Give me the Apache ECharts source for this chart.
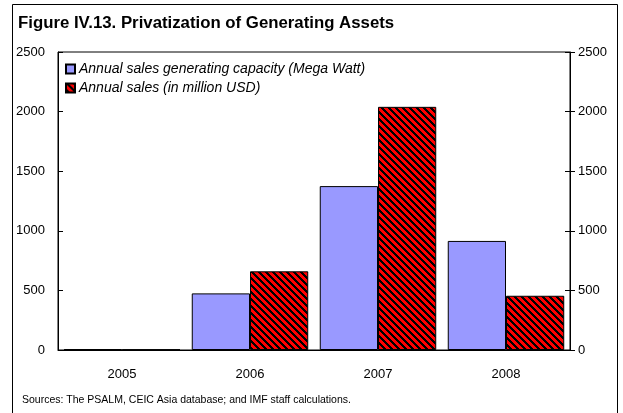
<!DOCTYPE html>
<html>
<head>
<meta charset="utf-8">
<script src="https://cdn.jsdelivr.net/npm/echarts@6/dist/echarts.min.js"></script>
<style>
  html, body { margin: 0; padding: 0; background: #fff; }
  #chart { width: 623px; height: 413px; }
</style>
</head>
<body>
<div id="chart"></div>
<script>
var years = ['2005', '2006', '2007', '2008'];
var capacityMW = [8, 475, 1375, 915];
var salesUSD = [4, 660, 2040, 455];
var axisTicks = [0, 500, 1000, 1500, 2000, 2500];

// red / black diagonal hatch for the sales bars
function hatchTile() {
    var n = 7;
    var c = document.createElement('canvas');
    c.width = n; c.height = n;
    var ctx = c.getContext('2d');
    for (var y = 0; y < n; y++) {
        for (var x = 0; x < n; x++) {
            ctx.fillStyle = ((x - y + n) % n) < 3 ? '#000000' : '#ff0000';
            ctx.fillRect(x, y, 1, 1);
        }
    }
    return c;
}

var font = 'Liberation Sans, Arial, sans-serif';
var plain = function (v) { return String(v); };
var chart = echarts.init(document.getElementById('chart'));

var option = {
    animation: false,
    backgroundColor: '#ffffff',
    textStyle: { fontFamily: font, color: '#000' },
    title: {
        text: 'Figure IV.13. Privatization of Generating Assets',
        left: 13, top: 10,
        textStyle: { fontFamily: font, fontSize: 16.8, fontWeight: 'bold', color: '#000' }
    },
    graphic: [
        {   // outer frame
            type: 'rect', silent: true,
            shape: { x: 12.5, y: 4.5, width: 605, height: 420 },
            style: { fill: null, stroke: '#000', lineWidth: 1 }
        },
        {
            type: 'text', left: 22, top: 395,
            style: {
                text: 'Sources: The PSALM, CEIC Asia database; and IMF staff calculations.',
                font: '10.5px ' + font, fill: '#000'
            }
        }
    ],
    legend: {
        orient: 'vertical',
        left: 60, top: 57,
        itemWidth: 9, itemHeight: 9, itemGap: 5,
        icon: 'rect',
        textStyle: { fontFamily: font, fontSize: 14, fontStyle: 'italic', color: '#000', padding: [0, 0, 0, -1] },
        data: ['Annual sales generating capacity (Mega Watt)', 'Annual sales (in million USD)']
    },
    grid: {
        left: 58, right: 53, top: 52, bottom: 63,
        show: true, borderColor: '#000', borderWidth: 1, backgroundColor: 'transparent'
    },
    xAxis: {
        type: 'category',
        data: years,
        axisLine: { lineStyle: { color: '#000', width: 1 } },
        axisTick: { inside: true, length: 5, lineStyle: { color: '#000' } },
        axisLabel: { fontFamily: font, fontSize: 13, color: '#000', margin: 18 }
    },
    yAxis: [
        {
            type: 'value', position: 'left',
            min: 0, max: 2500, interval: 500,
            splitLine: { show: false },
            axisLine: { show: true, lineStyle: { color: '#000' } },
            axisTick: { show: true, inside: true, length: 5, lineStyle: { color: '#000' } },
            axisLabel: { fontFamily: font, fontSize: 13, color: '#000', margin: 13,
                customValues: axisTicks, formatter: plain }
        },
        {
            type: 'value', position: 'right',
            min: 0, max: 2500, interval: 500,
            splitLine: { show: false },
            axisLine: { show: true, lineStyle: { color: '#000' } },
            axisTick: { show: true, length: 5, lineStyle: { color: '#000' } },
            axisLabel: { fontFamily: font, fontSize: 13, color: '#000', margin: 8,
                customValues: axisTicks, formatter: plain }
        },
        {
            type: 'value', position: 'right',
            min: 0, max: 2500, interval: 500,
            splitLine: { show: false },
            axisLine: { show: false },
            axisTick: { show: true, inside: true, length: 5, lineStyle: { color: '#000' } },
            axisLabel: { show: false }
        }
    ],
    series: [
        {
            name: 'Annual sales generating capacity (Mega Watt)',
            type: 'bar',
            data: capacityMW,
            barGap: '0%',
            barCategoryGap: '9%',
            itemStyle: { color: '#9999ff', borderColor: '#000', borderWidth: 1 }
        },
        {
            name: 'Annual sales (in million USD)',
            type: 'bar',
            data: salesUSD,
            itemStyle: {
                color: { image: hatchTile(), repeat: 'repeat' },
                borderColor: '#000', borderWidth: 1
            }
        }
    ]
};
chart.setOption(option);
</script>
</body>
</html>
